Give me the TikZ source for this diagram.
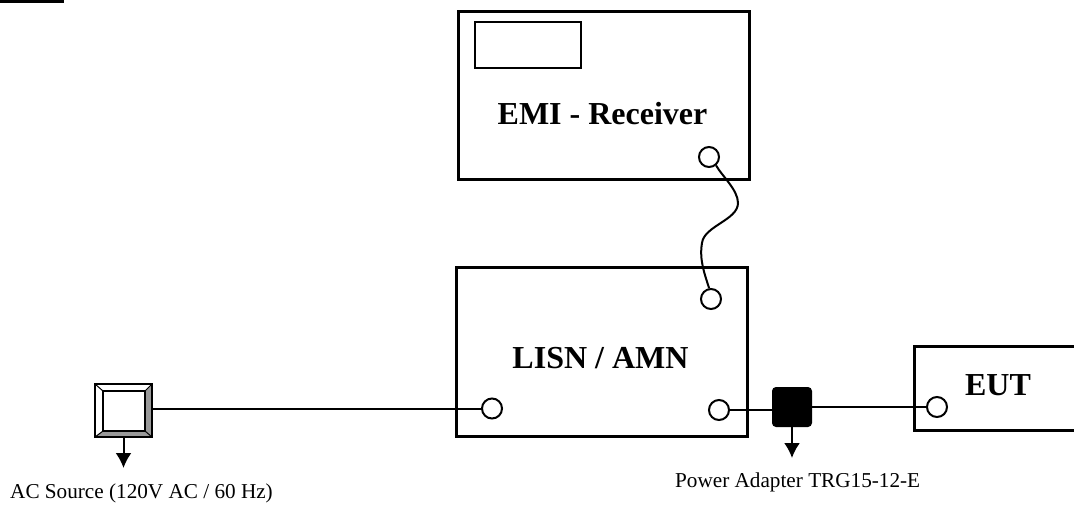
\documentclass[tikz,border=0pt]{standalone}
\usepackage{fontspec}
\usetikzlibrary{arrows.meta}
\setmainfont{Liberation Serif}
\begin{document}
\begin{tikzpicture}[x=1pt,y=-1pt,
  box/.style={line width=3pt},
  port/.style={circle,draw,line width=2pt,fill=white,minimum size=20pt,inner sep=0},
  wire/.style={line width=2pt},
  gnd/.style={line width=2pt,-{Latex[length=15pt,width=16pt]}},
  title/.style={font=\bfseries\fontsize{32}{36}\selectfont,inner sep=0,anchor=base},
  small/.style={font=\fontsize{21.2}{24}\selectfont,inner sep=0,anchor=base west}]
\useasboundingbox (0,0) rectangle (1074,504);
\fill (0,0) rectangle (64,3);
% boxes
\draw[box] (458,11) rectangle (749,179);
\draw[line width=1.7pt] (475,22) rectangle (581,68);
\draw[box] (456,267) rectangle (747,436);
\draw[box] (1074,346) -- (914,346) -- (914,430) -- (1074,430);
\node[title] (emi) at (602.5,124) {EMI - Receiver};
\node[title] (lisn) at (600.5,368) {LISN / AMN};
\node[title] (eut) at (998,395) {EUT};
% source
\coordinate (srcNW) at (95,384);
\coordinate (srcNE) at (152,384);
\coordinate (srcSE) at (152,437);
\coordinate (srcSW) at (95,437);
\coordinate (inNW) at (103,391);
\coordinate (inNE) at (145,391);
\coordinate (inSE) at (145,431);
\coordinate (inSW) at (103,431);
\fill[white] (srcNW) rectangle (srcSE);
\fill[gray!80] (srcNE) -- (srcSE) -- (inSE) -- (inNE) -- cycle;
\fill[gray!80] (srcSW) -- (srcSE) -- (inSE) -- (inSW) -- cycle;
\draw[line width=2.3pt] (srcNW) rectangle (srcSE);
\draw[line width=1.4pt] (inNW) rectangle (inSE);
\draw[line width=1pt] (srcNW)--(inNW) (srcNE)--(inNE) (srcSE)--(inSE) (srcSW)--(inSW);
\node[minimum width=57pt,minimum height=53pt,inner sep=0] (src) at (123.5,410.5) {};
\coordinate (srcgnd) at (123.5,468);
\node[fill=black,rounded corners=4pt,minimum width=40pt,minimum height=40pt,inner sep=0] (adp) at (792,407) {};
\coordinate (adpgnd) at (792,458);
% ports
\node[port] (p1) at (709,157) {};
\node[port] (p2) at (711,299) {};
\node[port] (p3) at (492,408.5) {};
\node[port] (p4) at (719,410) {};
\node[port] (p5) at (937,407) {};
% wires
\draw[wire] (src.east |- p3.west) -- (p3.west);
\draw[line width=1.6pt] (p4.east) -- (adp.west |- p4.east);
\draw[wire] (adp.east |- p5.west) -- (p5.west);
\draw[gnd] (src.south) -- (srcgnd);
\draw[gnd] (adp.south) -- (adpgnd);
\draw[wire] (p1.-50) .. controls (722,176) and (738,190) .. (738,203)
  .. controls (738,220) and (704,226) .. (702,243)
  .. controls (699,260) and (705,275) .. (p2.100);
% labels
\node[small] (acl) at (10,498) {AC Source (120V AC / 60 Hz)};
\node[small] (pal) at (675,487) {Power Adapter TRG15-12-E};
\end{tikzpicture}
\end{document}
